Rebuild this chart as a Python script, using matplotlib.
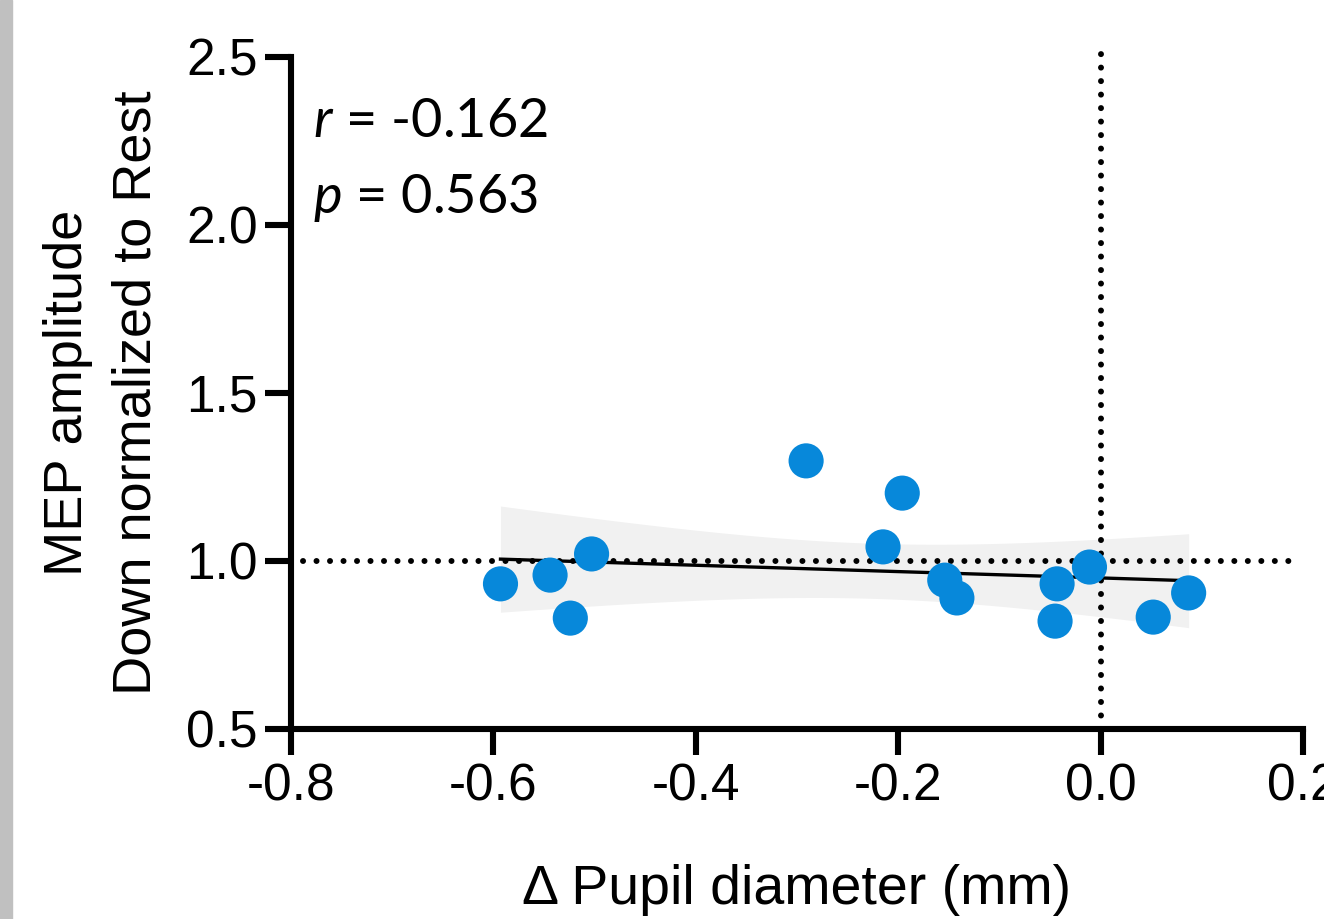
import numpy as np
import matplotlib
matplotlib.use('Agg')
import matplotlib.pyplot as plt
from matplotlib.patches import Rectangle

# change in pupil diameter (mm) and normalized MEP amplitude, one point per subject
pupil = [-0.593, -0.544, -0.524, -0.503, -0.291, -0.215, -0.196,
         -0.154, -0.142, -0.043, -0.045, -0.011, 0.052, 0.087]
mep = [0.932, 0.958, 0.830, 1.021, 1.298, 1.042, 1.202,
       0.943, 0.890, 0.932, 0.821, 0.982, 0.833, 0.905]

r_text = '$\\it{r}$ = -0.162'
p_text = '$\\it{p}$ = 0.563'
xticks = [-0.8, -0.6, -0.4, -0.2, 0.0, 0.2]
yticks = [0.5, 1.0, 1.5, 2.0, 2.5]

plt.rcParams['font.family'] = ['Liberation Sans', 'DejaVu Sans']
plt.rcParams['mathtext.fontset'] = 'custom'
plt.rcParams['mathtext.it'] = 'Lato:italic'
plt.rcParams['mathtext.rm'] = 'Lato'

fig = plt.figure(figsize=(13.24, 9.19), dpi=100)
fig.patches.append(Rectangle((0, 0), 12 / 1324, 1, transform=fig.transFigure,
                             color='#c0c0c0', zorder=0))
ax = fig.add_axes([291 / 1324, 1 - 729 / 919, 1012 / 1324, 672 / 919])

# linear fit with 95% confidence band
x = np.array(pupil)
y = np.array(mep)
n = len(x)
slope, icpt = np.polyfit(x, y, 1)
xs = np.linspace(x.min(), x.max(), 100)
ys = slope * xs + icpt
resid = y - (slope * x + icpt)
s = np.sqrt(np.sum(resid ** 2) / (n - 2))
se = s * np.sqrt(1 / n + (xs - x.mean()) ** 2 / np.sum((x - x.mean()) ** 2))
t = 2.179
ax.fill_between(xs, ys - t * se, ys + t * se, color='#f1f1f1', lw=0, zorder=1)

dot = dict(color='black', lw=4.3, linestyle=(0, (0.01, 2.25)),
           dash_capstyle='round', zorder=2, clip_on=False)
ax.plot([-0.788, 0.193], [1.0, 1.0], **dot)
ax.plot([0.0, 0.0], [0.5, 2.515], **dot)

ax.plot(xs, ys, color='black', lw=2.4, zorder=3)
ax.scatter(x, y, s=640, color='#0788da', edgecolors='none', zorder=4)

ax.set_xlim(-0.8, 0.2)
ax.set_ylim(0.5, 2.5)
ax.set_xticks(xticks)
ax.set_yticks(yticks)
ax.set_xticklabels([f'{v:.1f}' for v in xticks])
ax.set_yticklabels([f'{v:.1f}' for v in yticks])
for side in ['top', 'right']:
    ax.spines[side].set_visible(False)
for side in ['left', 'bottom']:
    ax.spines[side].set_linewidth(4.4)
    ax.spines[side].set_capstyle('projecting')
ax.tick_params(width=4.4, length=19, labelsize=37, pad=5)

ax.set_ylabel('MEP amplitude\nDown normalized to Rest', fontsize=39,
              linespacing=1.45, labelpad=18)
ax.set_xlabel('Δ Pupil diameter (mm)', fontsize=40, labelpad=38)

ax.text(0.022, 0.881, r_text, transform=ax.transAxes, fontsize=39,
        family='Lato', va='baseline')
ax.text(0.022, 0.768, p_text, transform=ax.transAxes, fontsize=39,
        family='Lato', va='baseline')

fig.savefig('out.png', dpi=100)
